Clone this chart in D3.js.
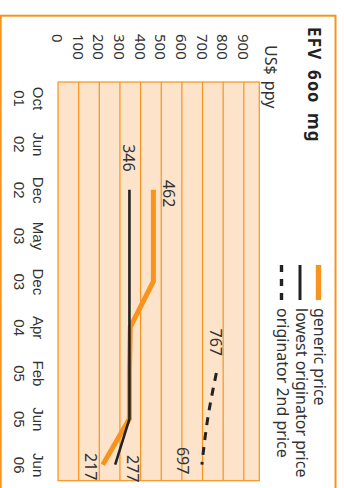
<!DOCTYPE html>
<html>
<head>
<meta charset="utf-8">
<script src="https://cdn.jsdelivr.net/npm/d3@7"></script>
<style>
  html, body { margin: 0; padding: 0; background: #fff; }
  svg { display: block; font-family: "Noto Sans", sans-serif; }
  .old { font-variant-numeric: oldstyle-nums; font-feature-settings: "onum" 1; }
</style>
</head>
<body>
<svg id="chart" width="344" height="488"></svg>
<script>
// ---- data ----
const months = ["Oct", "Jun", "Dec", "May", "Dec", "Apr", "Feb", "Jun", "Jun"];
const years  = ["01", "02", "02", "03", "03", "04", "05", "05", "06"];
const genericPrice     = [null, null, 462, 462, 462, 350, 346, 346, 217];
const lowestOrigPrice  = [null, null, 346, 346, 346, 346, 346, 346, 277];
const orig2ndPrice     = [null, null, null, null, null, null, 767, 725, 697];
const valueTicks = [0, 100, 200, 300, 400, 500, 600, 700, 800, 900];
const legendLabels = ["generic price", "lowest originator price", "originator 2nd price"];
const titleText = "EFV 600 mg";
const unitText = "US$ ppy";

const categories = months.map((m, i) => m + " " + years[i]);

// ---- layout (drawn in landscape, then turned a quarter clockwise) ----
const H = 344;
const ORANGE = "#f7941d";
const INK = "#333";

const svg = d3.select("#chart");
svg.append("rect").attr("width", 344).attr("height", 488).attr("fill", "#fff");

const g = svg.append("g").attr("transform", `translate(${H},0) rotate(90)`);

// outer frame
g.append("rect")
  .attr("x", 15.7).attr("y", 8.5)
  .attr("width", 520).attr("height", 334.8)
  .attr("fill", "none").attr("stroke", ORANGE).attr("stroke-width", 2);

const plot = { left: 82, right: 480.7, top: 84.7, bottom: 286 };

const x = d3.scalePoint().domain(categories).range([plot.left, plot.right]).padding(0.35);
const y = d3.scaleLinear().domain([0, 975]).range([plot.bottom, plot.top]);

// plot background
g.append("rect")
  .attr("x", plot.left).attr("y", plot.top)
  .attr("width", plot.right - plot.left).attr("height", plot.bottom - plot.top)
  .attr("fill", "#fde3c9").attr("stroke", ORANGE).attr("stroke-width", 1.2);

// horizontal gridlines
g.append("g").selectAll("line")
  .data(valueTicks.filter(v => v > 0))
  .join("line")
  .attr("x1", plot.left).attr("x2", plot.right)
  .attr("y1", d => y(d)).attr("y2", d => y(d))
  .attr("stroke", ORANGE).attr("stroke-width", 1.2);

// value axis labels (left aligned)
const yAxis = g.append("g")
  .attr("transform", "translate(34,0)")
  .call(d3.axisLeft(y).tickValues(valueTicks).tickSize(0).tickPadding(0).tickFormat(d3.format("d")));
yAxis.select(".domain").remove();
yAxis.selectAll("text")
  .attr("x", 0).attr("dy", "0.36em")
  .attr("text-anchor", "start")
  .attr("fill", INK)
  .style("font-size", "15px").style("font-family", "'Noto Sans', sans-serif");

// unit label
g.append("text")
  .attr("x", 45).attr("y", 79)
  .attr("fill", INK).style("font-size", "16px")
  .style("word-spacing", "2px")
  .text(unitText);

// title
g.append("text")
  .attr("x", 27).attr("y", 36)
  .attr("fill", "#222").attr("class", "old")
  .style("font-size", "17px").style("font-weight", "700")
  .style("letter-spacing", "1.2px").style("word-spacing", "4px")
  .text(titleText);

// category axis: month over year
const xAxis = g.append("g")
  .attr("transform", "translate(0,311)")
  .call(d3.axisBottom(x).tickSize(0).tickPadding(0));
xAxis.select(".domain").remove();
xAxis.selectAll(".tick text").remove();
xAxis.selectAll(".tick").each(function (d, i) {
  const t = d3.select(this);
  t.append("text")
    .attr("y", 0).attr("text-anchor", "middle").attr("fill", INK)
    .style("font-size", "15px")
    .text(months[i]);
  t.append("text")
    .attr("y", 19.5).attr("text-anchor", "middle").attr("fill", INK)
    .attr("class", "old")
    .style("font-size", "15px")
    .text(years[i]);
});

// series lines
const line = d3.line()
  .defined(d => d.v != null)
  .x(d => x(d.c))
  .y(d => y(d.v));

const toPts = arr => arr.map((v, i) => ({ c: categories[i], v }));

g.append("path")
  .datum(toPts(genericPrice))
  .attr("d", line)
  .attr("fill", "none").attr("stroke", ORANGE).attr("stroke-width", 5)
  .attr("stroke-linejoin", "miter");

g.append("path")
  .datum(toPts(orig2ndPrice))
  .attr("d", line.curve(d3.curveMonotoneX))
  .attr("fill", "none").attr("stroke", "#222").attr("stroke-width", 3)
  .attr("stroke-dasharray", "8,7");

line.curve(d3.curveLinear);
g.append("path")
  .datum(toPts(lowestOrigPrice))
  .attr("d", line)
  .attr("fill", "none").attr("stroke", "#222").attr("stroke-width", 2.6);

// value callouts, text taken from the plotted values
const callouts = [
  { arr: lowestOrigPrice, i: 2, dx: -18, dy: 0,   anchor: "end",    base: "central" },
  { arr: genericPrice,    i: 2, dx: 4,   dy: -10, anchor: "middle", base: "auto" },
  { arr: orig2ndPrice,    i: 6, dx: -17, dy: 0,   anchor: "end",    base: "central" },
  { arr: orig2ndPrice,    i: 8, dx: -4,  dy: 25,  anchor: "middle", base: "auto" },
  { arr: lowestOrigPrice, i: 8, dx: 4,   dy: -12, anchor: "middle", base: "auto" },
  { arr: genericPrice,    i: 8, dx: 2,   dy: 18,  anchor: "middle", base: "auto" }
];
g.append("g").selectAll("text")
  .data(callouts)
  .join("text")
  .attr("x", d => x(categories[d.i]) + d.dx)
  .attr("y", d => y(d.arr[d.i]) + d.dy)
  .attr("text-anchor", d => d.anchor)
  .attr("dominant-baseline", d => d.base)
  .attr("fill", INK)
  .style("font-size", "16px")
  .text(d => d3.format("d")(d.arr[d.i]));

// legend
const legend = g.append("g");
const rows = [30, 48.5, 67];
legendLabels.forEach((lab, i) => {
  const cy = rows[i] - 4.5;
  if (i === 0) {
    legend.append("rect").attr("x", 265).attr("y", cy - 2.7).attr("width", 35).attr("height", 5.4).attr("fill", ORANGE);
  } else {
    legend.append("line").attr("x1", 265).attr("x2", 300).attr("y1", cy).attr("y2", cy)
      .attr("stroke", "#222").attr("stroke-width", i === 1 ? 3 : 3.4)
      .attr("stroke-dasharray", i === 2 ? "7,7" : null);
  }
  legend.append("text")
    .attr("x", 308).attr("y", rows[i])
    .attr("fill", INK).style("font-size", "16px")
    .text(lab);
});
</script>
</body>
</html>
